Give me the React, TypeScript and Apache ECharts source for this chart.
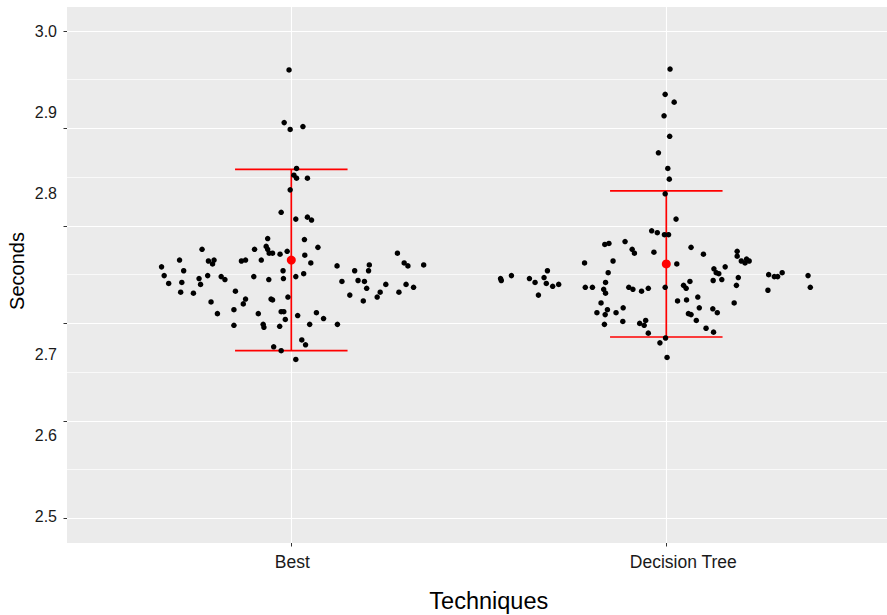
import React, { useEffect, useRef } from "react";
import * as echarts from "echarts";

// ---- Data ----
const categories = ["Best", "Decision Tree"];
const yTickLabels = ["3.0", "2.9", "2.8", "", "2.7", "2.6", "2.5"]; // top to bottom, as printed
const xTitle = "Techniques";
const yTitle = "Seconds";

// horizontal jitter (category units) and value (seconds) of each point
const bestJitter = [
  -0.006, -0.019, -0.003, 0.031, 0.014, 0.007, 0.014, 0.043, -0.003, -0.027,
  0.012, 0.043, 0.054, -0.063, 0.035, -0.238, -0.098, -0.067, -0.063, 0.071,
  -0.059, -0.05, -0.03, -0.011, 0.036, -0.298, -0.221, -0.206, -0.21, -0.133,
  -0.122, -0.08, 0.052, -0.346, -0.287, -0.339, -0.246, -0.223, -0.187, -0.177,
  -0.1, -0.06, -0.022, -0.021, 0.012, 0.033, -0.327, -0.292, -0.242, -0.295,
  -0.261, -0.149, -0.214, -0.122, -0.128, -0.054, -0.05, -0.009, -0.197, -0.153,
  -0.088, -0.027, -0.02, -0.016, 0.017, 0.067, 0.086, -0.153, -0.075, -0.073,
  -0.031, 0.049, 0.123, 0.028, 0.038, -0.047, -0.027, 0.012, 0.122, 0.135,
  0.156, 0.169, 0.178, 0.195, 0.201, 0.192, 0.206, 0.208, 0.252, 0.237,
  0.229, 0.283, 0.301, 0.311, 0.353, 0.306, 0.287, 0.326,
];
const bestSeconds = [
  2.96, 2.906, 2.899, 2.902, 2.859, 2.852, 2.849, 2.849, 2.837, 2.814,
  2.807, 2.809, 2.806, 2.787, 2.786, 2.776, 2.776, 2.779, 2.776, 2.778,
  2.772, 2.772, 2.771, 2.774, 2.77, 2.765, 2.764, 2.765, 2.761, 2.764,
  2.765, 2.765, 2.762, 2.758, 2.754, 2.749, 2.746, 2.749, 2.748, 2.745,
  2.748, 2.745, 2.754, 2.746, 2.748, 2.751, 2.741, 2.742, 2.74, 2.732,
  2.731, 2.733, 2.722, 2.725, 2.72, 2.725, 2.724, 2.727, 2.71, 2.714,
  2.71, 2.712, 2.712, 2.704, 2.708, 2.711, 2.705, 2.698, 2.699, 2.696,
  2.697, 2.699, 2.699, 2.683, 2.678, 2.676, 2.672, 2.663, 2.759, 2.743,
  2.729, 2.754, 2.744, 2.743, 2.736, 2.723, 2.754, 2.76, 2.74, 2.732,
  2.727, 2.772, 2.762, 2.759, 2.76, 2.74, 2.732, 2.737,
];
const dtJitter = [
  0.01, -0.003, 0.021, -0.006, 0.009, -0.021, 0.004, 0.008, -0.003, 0.026,
  -0.039, -0.024, -0.005, 0.006, -0.164, -0.153, -0.11, -0.091, -0.085, -0.033,
  0.066, 0.099, -0.218, -0.142, 0.028, -0.155, 0.189, 0.189, 0.2, 0.21,
  0.214, 0.221, 0.157, 0.127, 0.133, 0.14, 0.125, 0.148, 0.192, 0.187,
  0.181, 0.063, 0.046, 0.053, -0.003, -0.162, -0.216, -0.197, -0.167, -0.162,
  -0.1, -0.089, -0.066, -0.048, -0.174, -0.185, -0.157, -0.163, -0.134, -0.115,
  -0.165, -0.116, -0.071, -0.059, -0.055, -0.048, 0.03, 0.054, 0.084, 0.088,
  0.059, 0.066, 0.08, 0.106, 0.126, 0.124, 0.136, -0.017, -0.002, 0.002,
  -0.442, -0.44, -0.413, -0.365, -0.35, -0.326, -0.317, -0.32, -0.303, -0.287,
  -0.341, 0.273, 0.288, 0.297, 0.309, 0.271, 0.378, 0.384,
];
const dtSeconds = [
  2.961, 2.935, 2.927, 2.913, 2.892, 2.875, 2.859, 2.848, 2.833, 2.807,
  2.795, 2.793, 2.791, 2.791, 2.781, 2.782, 2.784, 2.776, 2.772, 2.773,
  2.778, 2.771, 2.762, 2.764, 2.761, 2.752, 2.774, 2.769, 2.764, 2.762,
  2.766, 2.764, 2.758, 2.756, 2.752, 2.751, 2.744, 2.745, 2.747, 2.739,
  2.721, 2.743, 2.739, 2.736, 2.737, 2.742, 2.737, 2.737, 2.735, 2.731,
  2.737, 2.735, 2.733, 2.736, 2.721, 2.711, 2.714, 2.709, 2.711, 2.716,
  2.699, 2.702, 2.7, 2.698, 2.703, 2.69, 2.723, 2.724, 2.727, 2.716,
  2.71, 2.709, 2.703, 2.695, 2.691, 2.715, 2.711, 2.68, 2.685, 2.665,
  2.746, 2.744, 2.749, 2.746, 2.742, 2.747, 2.754, 2.741, 2.738, 2.74,
  2.729, 2.75, 2.748, 2.748, 2.752, 2.734, 2.749, 2.737,
];
const means = [2.765, 2.761];
const lower = [2.672, 2.686];
const upper = [2.858, 2.836];

// ---- Layout (pixels) ----
const W = 887;
const H = 615;
const PANEL_L = 67;
const PANEL_T = 7;
const PANEL_B = 543;
const TICK_TOP_PX = 31; // pixel of 3.0 tick
const TICK_BOT_PX = 518.3; // pixel of 2.5 tick
const CAT1_PX = 291.3;
const CAT2_PX = 666.3;
const LABEL_TOP_PX = 31.7;
const LABEL_BOT_PX = 516.5;
const PX_PER_UNIT = (TICK_BOT_PX - TICK_TOP_PX) / 0.5;
const PX_PER_CAT = CAT2_PX - CAT1_PX;
const YMAX = 3.0 + (TICK_TOP_PX - PANEL_T) / PX_PER_UNIT;
const YMIN = 2.5 - (PANEL_B - TICK_BOT_PX) / PX_PER_UNIT;
const XMIN = 1 - (CAT1_PX - PANEL_L) / PX_PER_CAT;
const XMAX = 2 + (W - CAT2_PX) / PX_PER_CAT;
const HALF_W = 0.15;
const FONT = "'Liberation Sans', Arial, Helvetica, sans-serif";
const LABEL_COLOR = "#1A1A1A";

export default function App() {
  const ref = useRef<HTMLDivElement>(null);
  useEffect(() => {
    if (!ref.current) return;
    const chart = echarts.init(ref.current, null, { renderer: "svg" });
    const bestPts = bestJitter.map((j, i) => [1 + j, bestSeconds[i]]);
    const dtPts = dtJitter.map((j, i) => [2 + j, dtSeconds[i]]);
    const meanPts = means.map((m, i) => [i + 1, m]);
    const barData = means.map((_, i) => [i + 1, lower[i], upper[i]]);
    const white = "#FFFFFF";
    const richBase = { fontSize: 17.5, color: LABEL_COLOR, fontFamily: FONT };
    chart.setOption({
      animation: false,
      textStyle: { fontFamily: FONT },
      grid: [
        { left: PANEL_L, right: 0, top: PANEL_T, bottom: H - PANEL_B, show: true, backgroundColor: "#EBEBEB", borderWidth: 0 },
        { left: PANEL_L, right: 0, top: TICK_TOP_PX, bottom: H - TICK_BOT_PX },
        { left: CAT1_PX, right: W - CAT2_PX, top: PANEL_T, bottom: H - PANEL_B },
        { left: PANEL_L, right: 0, top: LABEL_TOP_PX, bottom: H - LABEL_BOT_PX },
      ],
      xAxis: [
        { gridIndex: 0, type: "value", min: XMIN, max: XMAX, show: false },
        { gridIndex: 1, type: "value", min: 0, max: 1, show: false },
        {
          gridIndex: 2, type: "value", min: 1, max: 2, interval: 1, position: "bottom",
          axisLine: { show: false },
          axisTick: { show: true, length: 3.5, lineStyle: { color: "#333333", width: 1 } },
          axisLabel: {
            show: true, margin: 10, fontSize: 17.5, color: LABEL_COLOR, fontFamily: FONT,
            showMinLabel: true, showMaxLabel: true,
            formatter: (v: number) => {
              const i = Math.round(v) - 1;
              const name = categories[i] ?? "";
              return i === 0 ? `{a|${name}}` : `{b|${name}}`;
            },
            rich: {
              a: { ...richBase, padding: [0, 0, 0, 2] },
              b: { ...richBase, padding: [0, 0, 0, 34] },
            },
          },
          splitLine: { show: true, lineStyle: { color: white, width: 1.1 } },
        },
        { gridIndex: 3, type: "value", min: 0, max: 1, show: false },
      ],
      yAxis: [
        { gridIndex: 0, type: "value", min: YMIN, max: YMAX, show: false },
        {
          gridIndex: 1, type: "value", min: 2.5, max: 3.0, interval: 0.1,
          axisLine: { show: false },
          axisTick: { show: true, length: 3.5, lineStyle: { color: "#333333", width: 1 } },
          axisLabel: { show: false },
          splitLine: { show: true, lineStyle: { color: white, width: 1.1 } },
          minorTick: { show: false, splitNumber: 2 },
          minorSplitLine: { show: true, lineStyle: { color: white, width: 0.7 } },
        },
        { gridIndex: 2, type: "value", min: 0, max: 1, show: false },
        {
          gridIndex: 3, type: "value", min: 0, max: 6, interval: 1,
          axisLine: { show: false },
          axisTick: { show: false },
          splitLine: { show: false },
          axisLabel: {
            show: true, margin: 10, fontSize: 16, color: LABEL_COLOR, fontFamily: FONT,
            showMinLabel: true, showMaxLabel: true,
            formatter: (v: number) => yTickLabels[6 - Math.round(v)] ?? "",
          },
        },
      ],
      graphic: [
        {
          type: "text", x: 488.8, y: 600.5,
          style: { text: xTitle, fontSize: 23.5, fontFamily: FONT, fill: "#000", textAlign: "center", textVerticalAlign: "middle" },
        },
        {
          type: "text", x: 17, y: 271, rotation: Math.PI / 2,
          style: { text: yTitle, fontSize: 20, fontFamily: FONT, fill: "#000", textAlign: "center", textVerticalAlign: "middle" },
        },
      ],
      series: [
        {
          type: "custom", xAxisIndex: 0, yAxisIndex: 0, z: 3,
          data: barData,
          renderItem: (params: any, api: any) => {
            const x = api.value(0);
            const lo = api.value(1);
            const hi = api.value(2);
            const a = api.coord([x, hi]);
            const b = api.coord([x, lo]);
            const tl = api.coord([x - HALF_W, hi]);
            const tr = api.coord([x + HALF_W, hi]);
            const bl = api.coord([x - HALF_W, lo]);
            const br = api.coord([x + HALF_W, lo]);
            const st = { stroke: "#FF0000", lineWidth: 1.7 };
            return {
              type: "group",
              children: [
                { type: "line", shape: { x1: a[0], y1: a[1], x2: b[0], y2: b[1] }, style: st },
                { type: "line", shape: { x1: tl[0], y1: tl[1], x2: tr[0], y2: tr[1] }, style: st },
                { type: "line", shape: { x1: bl[0], y1: bl[1], x2: br[0], y2: br[1] }, style: st },
              ],
            };
          },
        },
        {
          type: "scatter", xAxisIndex: 0, yAxisIndex: 0, z: 4,
          data: bestPts, symbol: "circle", symbolSize: 5.5,
          itemStyle: { color: "#000000", opacity: 1 },
        },
        {
          type: "scatter", xAxisIndex: 0, yAxisIndex: 0, z: 4,
          data: dtPts, symbol: "circle", symbolSize: 5.5,
          itemStyle: { color: "#000000", opacity: 1 },
        },
        {
          type: "scatter", xAxisIndex: 0, yAxisIndex: 0, z: 5,
          data: meanPts, symbol: "circle", symbolSize: 9,
          itemStyle: { color: "#FF0000", opacity: 1 },
        },
      ],
    });
    return () => chart.dispose();
  }, []);
  return (
    <div
      ref={ref}
      style={{ position: "fixed", left: 0, top: 0, width: W, height: H, background: "#FFFFFF" }}
    />
  );
}
